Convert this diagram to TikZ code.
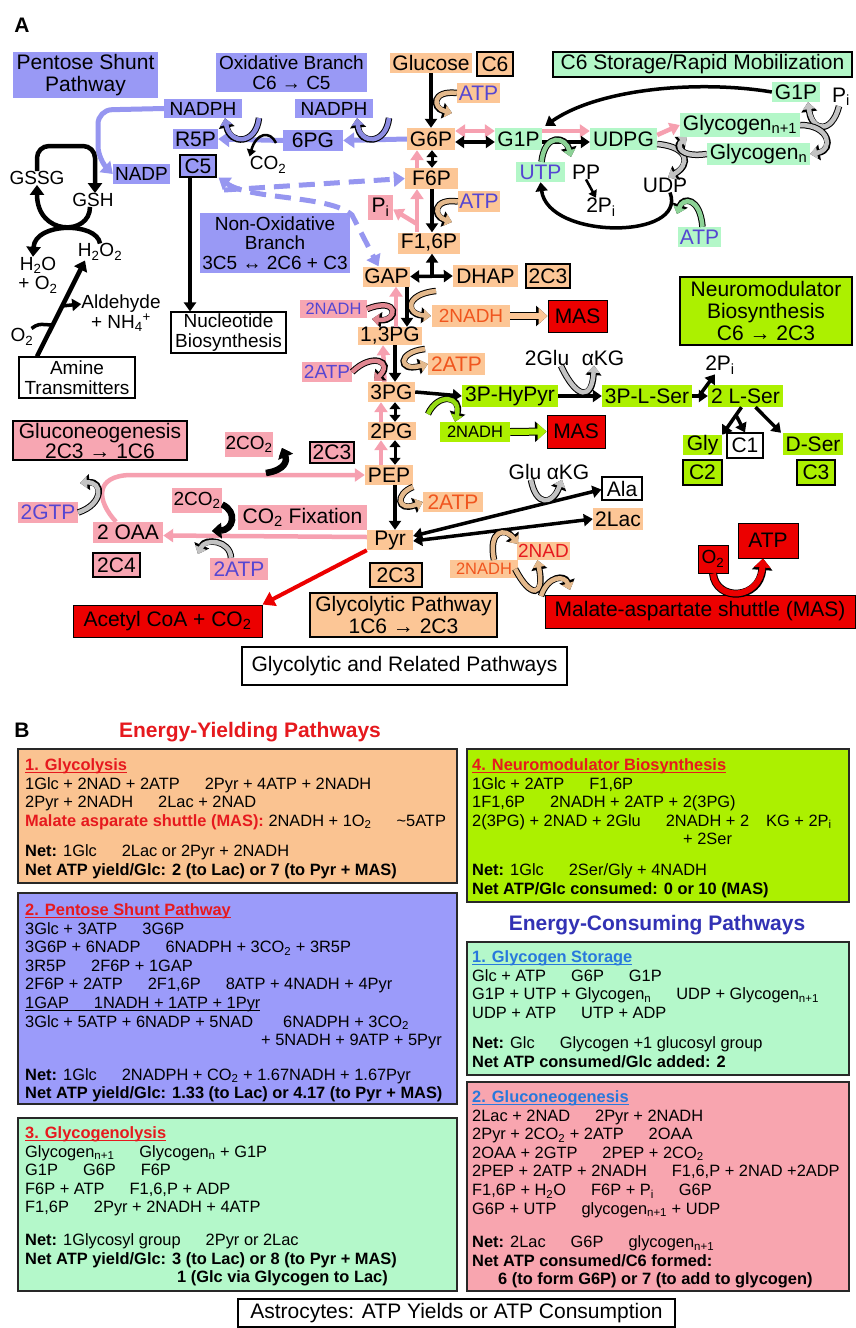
\documentclass[tikz,border=0pt]{standalone}
\usepackage{fontspec}
\setmainfont{Liberation Sans}
\usetikzlibrary{arrows.meta}
\definecolor{cOr}{RGB}{252,198,150}
\definecolor{cLav}{RGB}{153,153,245}
\definecolor{cGrn}{RGB}{179,247,200}
\definecolor{cYG}{RGB}{172,240,0}
\definecolor{cPnk}{RGB}{247,166,178}
\definecolor{cRed}{RGB}{236,0,0}
\definecolor{tBlu}{RGB}{85,70,210}
\definecolor{tOr}{RGB}{240,85,30}
\definecolor{tRed}{RGB}{230,25,30}
\definecolor{aPnk}{RGB}{246,160,176}
\definecolor{aLav}{RGB}{150,150,240}
\definecolor{hTan}{RGB}{228,185,140}
\definecolor{hGry}{RGB}{195,195,195}
\definecolor{hGrn}{RGB}{140,210,150}
\definecolor{hPnk}{RGB}{225,135,145}
\definecolor{hLav}{RGB}{140,140,225}
\definecolor{hYG}{RGB}{150,220,20}
\definecolor{ttlBlu}{RGB}{40,120,220}
\definecolor{hdrBlu}{RGB}{50,50,180}
\definecolor{bxBrd}{RGB}{40,40,40}
\definecolor{bOr}{RGB}{250,195,145}
\definecolor{bLav}{RGB}{155,155,250}
\definecolor{bGrn}{RGB}{180,248,202}
\definecolor{bYG}{RGB}{172,240,0}
\definecolor{bPnk}{RGB}{248,165,175}
\newcommand\fA{\fontsize{21}{22}\selectfont}
\newcommand\fAs{\fontsize{19}{19.5}\selectfont}
\newcommand\fAt{\fontsize{16.5}{18}\selectfont}
\newcommand\fB{\fontsize{16.4}{18.6}\selectfont}
\newcommand\fH{\fontsize{21}{22}\selectfont\bfseries}
\newcommand\sbs[1]{\textsubscript{#1}}
\newcommand\sps[1]{\textsuperscript{#1}}
\newcommand\gp{\hspace{25pt}}
\newsavebox\ulbx
\newcommand\ulin[1]{\sbox\ulbx{#1}\rlap{\rule[-2.6pt]{\wd\ulbx}{0.9pt}}\usebox\ulbx}
\begin{document}
\begin{tikzpicture}[x=1pt,y=-1pt,
  lb/.style={inner sep=0pt, font=\fA, align=center},
  sz/.style 2 args={minimum width=#1, minimum height=#2},
  orb/.style={lb, fill=cOr},
  lvb/.style={lb, fill=cLav},
  gnb/.style={lb, fill=cGrn},
  ygb/.style={lb, fill=cYG},
  pkb/.style={lb, fill=cPnk},
  rdb/.style={lb, fill=cRed, draw=black, line width=1pt},
  brd/.style={draw=black, line width=1.1pt},
  bare/.style={lb},
  blk/.style={draw=black, line width=3.5pt, -{Triangle[length=9pt,width=12pt]}},
  blkt/.style={draw=black, line width=4.5pt, -{Triangle[length=10pt,width=14pt]}},
  blk2/.style={draw=black, line width=3.5pt, {Triangle[length=9pt,width=12pt]}-{Triangle[length=9pt,width=12pt]}},
  blk2s/.style={draw=black, line width=3pt, {Triangle[length=7pt,width=11pt]}-{Triangle[length=7pt,width=11pt]}},
  pnk/.style={draw=aPnk, line width=4.5pt, -{Triangle[length=10pt,width=13pt]}},
  pnk2/.style={draw=aPnk, line width=4.5pt, {Triangle[length=10pt,width=13pt]}-{Triangle[length=10pt,width=13pt]}},
  lav/.style={draw=aLav, line width=5pt, -{Triangle[length=11pt,width=15pt]}},
  lavd/.style={lav, dash pattern=on 16pt off 9pt},
  redarr/.style={draw=cRed, line width=4pt, -{Triangle[length=12pt,width=15pt]}},
  hk/.style={draw=#1, line width=4.5pt, -{Triangle[length=7pt,width=12pt]}, preaction={draw=black, line width=6.5pt, -{Triangle[length=9.5pt,width=15.5pt]}}},
  hkb/.style={draw=#1, line width=6pt, -{Triangle[length=9pt,width=16pt]}, preaction={draw=black, line width=8pt, -{Triangle[length=11.5pt,width=20pt]}}},
  bbox/.style={draw=bxBrd, line width=1.6pt, inner sep=0pt},
  btxt/.style={anchor=base west, inner sep=0pt, font=\fB}
]
\fill[white] (0,0) rectangle (855,1328);
\path[use as bounding box] (0,0) rectangle (855,1328);

% ---------------- Part A nodes ----------------
\node[lb, font=\fA\bfseries] (lblA) at (22,25) {A};
\node[lvb, sz={145pt}{46pt}] (psp) at (85.5,75) {Pentose Shunt\\Pathway};
\node[lvb, sz={151pt}{39pt}, font=\fAs] (oxb) at (291.5,72.5) {Oxidative Branch\\C6 → C5};
\node[lvb, sz={78pt}{19pt}, font=\fAs] (nadph1) at (203,108.5) {NADPH};
\node[lvb, sz={78pt}{19pt}, font=\fAs] (nadph2) at (334,108.5) {NADPH};
\node[lvb, sz={45pt}{20pt}] (r5p) at (195.5,139) {R5P};
\node[lvb, sz={60pt}{21pt}] (pg6) at (313,140.5) {6PG};
\node[lvb, brd, sz={36pt}{22pt}] (c5) at (198,166) {C5};
\node[lvb, sz={57pt}{20pt}, font=\fAs] (nadp) at (141.5,174) {NADP};
\node[bare, font=\fAs] (gssg) at (37,178) {GSSG};
\node[bare, font=\fAs] (gsh) at (93,200) {GSH};
\node[bare, font=\fAs] (co2a) at (268,165) {CO\sbs{2}};
\node[orb, sz={82pt}{20pt}] (glc) at (431,63) {Glucose};
\node[orb, brd, sz={36pt}{24pt}] (c6) at (495,64) {C6};
\node[orb, sz={43pt}{20pt}, text=tBlu] (atp1) at (478.5,93) {ATP};
\node[orb, sz={48pt}{22pt}] (g6p) at (431,139) {G6P};
\node[gnb, sz={47pt}{22pt}] (g1p) at (518.5,139) {G1P};
\node[gnb, sz={67pt}{22pt}] (udpg) at (623.5,139) {UDPG};
\node[gnb, sz={120pt}{24pt}] (glyn1) at (740,125) {Glycogen\sbs{n+1}};
\node[gnb, sz={103pt}{22pt}] (glyn) at (758.5,154) {Glycogen\sbs{n}};
\node[gnb, sz={48pt}{20pt}] (g1pr) at (796,92) {G1P};
\node[bare] (pi1) at (841,97) {P\sbs{i}};
\node[gnb, brd, sz={299pt}{25pt}] (c6s) at (702.5,64.5) {C6 Storage/Rapid Mobilization};
\node[orb, sz={53pt}{21pt}] (f6p) at (431.5,178.5) {F6P};
\node[orb, sz={42pt}{21pt}, text=tBlu] (atp2) at (479,201.5) {ATP};
\node[gnb, sz={49pt}{20pt}, text=tBlu] (utp) at (540.5,172) {UTP};
\node[bare] (pp) at (586,172) {PP};
\node[bare] (pi2) at (601,207) {2P\sbs{i}};
\node[bare] (udp) at (665,185) {UDP};
\node[gnb, sz={43pt}{20pt}, text=tBlu] (atp3) at (699.5,237) {ATP};
\node[pkb, sz={25pt}{25pt}] (pip) at (380.5,207.5) {P\sbs{i}};
\node[orb, sz={62pt}{21pt}] (f16p) at (429,243) {F1,6P};
\node[orb, sz={47pt}{20pt}] (gap) at (386.5,276.5) {GAP};
\node[orb, sz={65pt}{22pt}] (dhap) at (485.5,276) {DHAP};
\node[orb, brd, sz={44pt}{24pt}] (c3a) at (548,276) {2C3};
\node[pkb, sz={67pt}{18pt}, font=\fAt, text=tBlu] (nadhp1) at (333.5,309) {2NADH};
\node[orb, sz={78pt}{22pt}, font=\fAs, text=tOr] (nadho1) at (471,316) {2NADH};
\node[rdb, sz={59pt}{32pt}] (mas1) at (577.5,316) {MAS};
\node[ygb, brd, sz={172pt}{68pt}] (neuro) at (766,311) {Neuromodulator\\Biosynthesis\\C6 → 2C3};
\node[orb, sz={64pt}{18pt}] (pg13) at (390,336) {1,3PG};
\node[pkb, sz={50pt}{20pt}, font=\fAs, text=tBlu] (atpp1) at (327,372) {2ATP};
\node[orb, sz={57pt}{22pt}, text=tOr] (atpo1) at (456.5,364) {2ATP};
\node[orb, sz={47pt}{20pt}] (pg3) at (391.5,392) {3PG};
\node[bare] (glu2) at (547,358) {2Glu};
\node[bare] (akg1) at (603,358) {αKG};
\node[ygb, sz={96pt}{22pt}] (hypyr) at (510,396) {3P-HyPyr};
\node[ygb, sz={90pt}{22pt}] (lser3p) at (647,396) {3P-L-Ser};
\node[ygb, sz={75pt}{22pt}] (lser) at (745.5,396) {2 L-Ser};
\node[bare] (pi3) at (720,365) {2P\sbs{i}};
\node[ygb, sz={70pt}{20pt}, font=\fAt] (nadhg) at (475,432) {2NADH};
\node[rdb, sz={58pt}{33pt}] (mas2) at (576,431.5) {MAS};
\node[ygb, sz={39pt}{20pt}] (gly) at (702.5,445) {Gly};
\node[lb, fill=white, brd, sz={36pt}{25pt}] (c1) at (745,445.5) {C1};
\node[ygb, sz={60pt}{22pt}] (dser) at (813,444) {D-Ser};
\node[ygb, brd, sz={39pt}{25pt}] (c2) at (702.5,472.5) {C2};
\node[ygb, brd, sz={38pt}{25pt}] (c3y) at (816,472.5) {C3};
\node[orb, sz={48pt}{18pt}] (pg2) at (391.5,431) {2PG};
\node[lvb, sz={150pt}{60pt}, font=\fAs] (nonox) at (275,243) {Non-Oxidative\\Branch\\3C5 ↔ 2C6 + C3};
\node[bare, font=\fAs] (h2o2) at (100,252) {H\sbs{2}O\sbs{2}};
\node[bare, font=\fAs] (h2o) at (38,275) {H\sbs{2}O\\+ O\sbs{2}};
\node[bare, font=\fAs] (ald) at (121,313) {Aldehyde\\+ NH\sbs{4}\sps{+}};
\node[bare, font=\fAs] (o2a) at (22,337) {O\sbs{2}};
\node[lb, fill=white, brd, sz={116pt}{41pt}, font=\fAs] (amine) at (77,377.5) {Amine\\Transmitters};
\node[lb, fill=white, brd, sz={115pt}{41pt}, font=\fAs] (nucl) at (228.5,332.5) {Nucleotide\\Biosynthesis};
\node[pkb, brd, sz={174pt}{39pt}, font=\fontsize{21}{20}\selectfont] (gng) at (100,440.5) {Gluconeogenesis\\2C3 → 1C6};
\node[pkb, sz={48pt}{25pt}, font=\fAs] (co2p1) at (249,444.5) {2CO\sbs{2}};
\node[pkb, brd, sz={44pt}{21pt}] (c3p) at (332,452.5) {2C3};
\node[orb, sz={48pt}{20pt}] (pep) at (389,475) {PEP};
\node[pkb, sz={60pt}{21pt}, text=tBlu] (gtp) at (48,512.5) {2GTP};
\node[pkb, sz={70pt}{21pt}] (oaa) at (128,532.5) {2 OAA};
\node[pkb, brd, sz={47pt}{24pt}] (c4) at (116.5,565) {2C4};
\node[pkb, sz={50pt}{25pt}, font=\fAs] (co2p2) at (197,500.5) {2CO\sbs{2}};
\node[pkb, sz={129pt}{25pt}] (fix) at (302.5,517.5) {CO\sbs{2} Fixation};
\node[pkb, sz={58pt}{22pt}, text=tBlu] (atpp2) at (239,569) {2ATP};
\node[orb, sz={46pt}{20pt}] (pyr) at (390,540) {Pyr};
\node[orb, brd, sz={52pt}{24pt}] (c3b) at (396,575) {2C3};
\node[orb, brd, sz={187pt}{44pt}] (glyp) at (403.5,615) {Glycolytic Pathway\\1C6 → 2C3};
\node[rdb, sz={189pt}{32pt}] (acoa) at (167.5,621) {Acetyl CoA + CO\sbs{2}};
\node[lb, fill=white, brd, sz={325pt}{38pt}] (grp) at (404.5,666) {Glycolytic and Related Pathways};
\node[bare] (glu1) at (525,472) {Glu};
\node[bare] (akg2) at (568,472) {αKG};
\node[lb, fill=white, brd, sz={40pt}{23pt}] (ala) at (622,488.5) {Ala};
\node[orb, sz={50pt}{22pt}] (lac) at (618,519) {2Lac};
\node[orb, sz={60pt}{20pt}, text=tOr] (atpo2) at (453,502) {2ATP};
\node[orb, sz={53pt}{18pt}, font=\fAs, text=tRed] (nad2) at (543.5,551) {2NAD};
\node[orb, sz={68pt}{18pt}, font=\fAt, text=tOr] (nadho2) at (484,569) {2NADH};
\node[rdb, sz={30pt}{28pt}, font=\fAs] (o2r) at (713,559) {O\sbs{2}};
\node[rdb, sz={60pt}{35pt}] (atpr) at (768,540.5) {ATP};
\node[rdb, sz={310pt}{33pt}] (masl) at (700,611.5) {Malate-aspartate shuttle (MAS)};

% ---------------- Part A connectors ----------------
% glycolysis (black)
\draw[blk] (glc.south) -- (g6p.north);
\draw[blk2s] ([xshift=1pt]g6p.south) -- ([xshift=0.5pt]f6p.north);
\draw[blk] ([xshift=0.5pt]f6p.south) -- ([xshift=3pt]f16p.north);
\coordinate (jn1) at (432,276.5);
\draw[blk2] (gap.east) -- (dhap.west);
\draw[blk] (jn1) -- ([xshift=3pt]f16p.south);
\draw[blk] ([xshift=20.5pt]gap.south) -- ([xshift=17pt]pg13.north);
\draw[blk] ([xshift=5pt]pg13.south) -- ([xshift=3.5pt]pg3.north);
\draw[blk2s] ([xshift=3.5pt]pg3.south) -- ([xshift=3.5pt]pg2.north);
\draw[blk2s] ([xshift=3.5pt]pg2.south) -- ([xshift=6pt]pep.north);
\draw[blk] ([xshift=6pt]pep.south) -- ([xshift=5pt]pyr.north);
\draw[blk2] ([yshift=4pt]pyr.east) -- ([yshift=-1pt]ala.west);
\draw[blk2] ([yshift=-1pt]pyr.east) -- (lac.west);
% gluconeogenesis (pink)
\draw[pnk] ([xshift=-14.5pt]f6p.north) -- ([xshift=-14pt]g6p.south);
\coordinate (br1) at (417,224);
\draw[pnk] ([xshift=-12pt]f16p.north) -- ([xshift=-14.5pt]f6p.south);
\draw[pnk] (br1) -- ([yshift=-2pt]pip.east);
\draw[pnk] ([xshift=6pt]pg13.north) -- ([xshift=9.5pt]gap.south);
\draw[pnk] ([xshift=-7pt]pg3.north) -- ([xshift=-7pt]pg13.south);
\draw[pnk] ([xshift=-10.5pt]pg2.north) -- ([xshift=-10.5pt]pg3.south);
\draw[pnk] ([xshift=-8pt]pep.north) -- ([xshift=-10.5pt]pg2.south);
\draw[pnk] ([yshift=3pt]pyr.west) -- ([yshift=-3pt]oaa.east);
\draw[pnk] ([xshift=-12pt]oaa.north) .. controls (96,500) and (95,476) .. (130,475) -- (pep.west);
% glycogen
\draw[pnk2] ([yshift=8pt]g6p.east) -- ([yshift=8pt]g1p.west);
\draw[blk2] ([yshift=-3pt]g6p.east) -- ([yshift=-3pt]g1p.west);
\draw[pnk] ([yshift=8pt]g1p.east) -- ([yshift=8pt]udpg.west);
\draw[blk] ([yshift=-3pt]g1p.east) -- ([yshift=-3pt]udpg.west);
\draw[pnk] ([yshift=4pt]udpg.east) -- (glyn1.west);
\draw[blk] (g1pr.west) .. controls (700,80) and (600,88) .. ([xshift=3pt,yshift=2pt]g1p.north east);
\draw[black, line width=2.5pt, -{Triangle[length=7pt,width=9pt]}] (pp.south) -- ([xshift=-5pt]pi2.north);
\draw[blk] ([xshift=5pt]udp.south) .. controls (688,240) and (548,240) .. (utp.south);
% serine branch
\draw[blk] (pg3.east) -- (hypyr.west);
\draw[blk] (hypyr.east) -- (lser3p.west);
\draw[blk] (lser3p.east) -- (lser.west);
\coordinate (jn2) at (699,396);
\draw[blk] (jn2) -- ([xshift=-5pt]pi3.south);
\coordinate (jn3) at (736,415);
\draw[blk] ([xshift=-4pt]lser.south) -- (gly.north east);
\draw[blk] (jn3) -- (c1.north);
\draw[blk] ([xshift=10pt]lser.south) -- ([xshift=-32pt]dser.north);
% pentose shunt
\draw[lav] (g6p.west) -- (pg6.east);
\draw[lav] (pg6.west) -- (r5p.east);
\draw[lav, rounded corners=14pt] (nadph1.west) -- (98,110) -- (98,160) -- (nadp.west);
\coordinate (d1) at (224,190);
\draw[lavd] (d1) -- (f6p.west);
\draw[lavd, {Triangle[length=11pt,width=15pt]}-{Triangle[length=11pt,width=15pt]}] ([xshift=2pt]c5.south east) .. controls (250,200) and (330,195) .. (352,215) -- ([xshift=-8pt]gap.north);
\draw[blk] ([xshift=-8pt]c5.south) -- ([xshift=-38.5pt]nucl.north);
% glutathione / amines
\draw[blkt, rounded corners=12pt] (gssg.north) -- (37,146) -- (95,146) -- ([xshift=2pt]gsh.north);
\draw[blkt] ([xshift=-3pt]gsh.south) .. controls (90,236) and (37,236) .. (gssg.south);
\draw[blkt] (h2o2.north) .. controls (97,222) and (35,222) .. ([xshift=-5pt]h2o.north);
\draw[blkt] ([xshift=-40pt]amine.north) -- ([xshift=-15pt]h2o2.south);
\draw[black, line width=3.5pt] ([xshift=-2pt]o2a.north east) .. controls (38,324) .. (51,325);
\coordinate (jn4) at (62,306);
\draw[blk] (jn4) -- ([yshift=9pt]ald.west);
% red
\draw[redarr] (pyr.south west) -- (acoa.north east);
% hooks
\draw[hk=hTan] (atp1.west) .. controls (432,90) and (432,108) .. (452,113);
\draw[hk=hTan] (atp2.west) .. controls (433,198) and (433,216) .. (452,222);
\draw[hk=hTan] (436,291) .. controls (405,294) and (405,314) .. ([xshift=-1pt]nadho1.west);
\draw[hk=hPnk] (nadhp1.east) .. controls (400,296) and (398,322) .. (372,319);
\draw[hk=hPnk] (atpp1.east) .. controls (372,352) and (394,362) .. (374,381);
\draw[hk=hTan] (425,349) .. controls (397,352) and (398,372) .. (atpo1.west);
\draw[hk=hTan] (413,487) .. controls (395,494) and (397,512) .. (atpo2.west);
\draw[hk=hYG] (428,414) .. controls (438,392) and (462,396) .. ([xshift=-20pt]nadhg.north);
\draw[hk=hGry] ([xshift=14pt]glu2.south) .. controls (577,400) and (592,400) .. ([xshift=-9pt]akg1.south);
\draw[hk=hGry] ([xshift=6pt]glu1.south) .. controls (536,506) and (552,506) .. ([xshift=-6pt]akg2.south);
\draw[hk=hTan] ([xshift=10pt]nadho2.north) .. controls (488,530) and (505,527) .. (518,544);
\draw[hk=hTan] ([xshift=-3pt]nadho2.east) .. controls (530,598) and (545,598) .. ([xshift=-6pt]nad2.south);
\draw[hk=hTan] (541,596) .. controls (548,575) and (565,575) .. (570,590);
\draw[hk=black] ([yshift=-4pt]co2p2.east) .. controls (238,512) and (233,530) .. (212,531);
\draw[hk=hGry] ([xshift=-8pt]atpp2.north) .. controls (230,540) and (205,538) .. (198,554);
\draw[hk=hGry] (gtp.east) .. controls (104,504) and (103,481) .. (80,483);
\draw[hk=black] (266,473) .. controls (286,470) and (287,460) .. (282,448);
\draw[hk=hLav] (389,118) .. controls (386,145) and (360,145) .. ([xshift=23pt]nadph2.south);
\draw[hk=hLav] (259,118) .. controls (256,145) and (230,145) .. ([xshift=22pt]nadph1.south);
\draw[black, line width=2.5pt, -{Triangle[length=7pt,width=9pt]}] (276,143) .. controls (270,130) and (256,133) .. (co2a.north west);
\draw[hk=hGrn] ([xshift=1pt]utp.north) .. controls (545,132) and (566,137) .. (571,157);
\draw[hk=hGry] ([yshift=-5pt]udpg.east) .. controls (690,147) and (690,165) .. ([xshift=3pt]udp.north);
\draw[hk=hGry] (glyn.west) .. controls (680,158) and (676,146) .. ([xshift=-53pt]glyn1.south);
\draw[hk=hGry] ([xshift=-2pt]pi1.south) .. controls (832,134) and (812,132) .. ([xshift=12pt]g1pr.south);
\draw[hk=hGry] (glyn1.east) .. controls (830,125) and (834,150) .. (glyn.east);
\draw[hk=hGrn] ([xshift=3pt]atp3.north) .. controls (700,197) and (683,197) .. (677,214);
\draw[hkb=cRed] (o2r.south) .. controls (716,602) and (760,600) .. ([xshift=-5pt]atpr.south);
\draw[hkb=cOr] (nadho1.east) -- (mas1.west);
\draw[hkb=cYG] (nadhg.east) -- (mas2.west);

% ---------------- Part B ----------------
\node[lb, font=\fA\bfseries] (lblB) at (22,730) {B};
\node[font=\fH, text=tRed] (hdr1) at (250,732) {Energy-Yielding Pathways};
\node[font=\fH, text=hdrBlu] (hdr2) at (657,925) {Energy-Consuming Pathways};

\node[bbox, fill=bOr, sz={439pt}{134pt}] (b1) at (237.5,816) {};
\node[bbox, fill=bLav, sz={439pt}{211pt}] (b2) at (237.5,998.5) {};
\node[bbox, fill=bGrn, sz={439pt}{173pt}] (b3) at (237.5,1204.5) {};
\node[bbox, fill=bYG, sz={382pt}{153pt}] (b4) at (658,825.5) {};
\node[bbox, fill=bGrn, sz={382pt}{133pt}] (b5) at (658,1008.5) {};
\node[bbox, fill=bPnk, sz={382pt}{209pt}] (b6) at (658,1186.5) {};

\node[btxt] (t1) at (25,770.5) {\begin{tabular}[t]{@{}l@{}}
{\color{tRed}\bfseries\ulin{1. Glycolysis}}\\
1Glc + 2NAD + 2ATP\gp 2Pyr + 4ATP + 2NADH\\
2Pyr + 2NADH\gp 2Lac + 2NAD\\
{\color{tRed}\bfseries Malate asparate shuttle (MAS):} 2NADH + 1O\sbs{2}\gp \textasciitilde5ATP\\[12pt]
\textbf{Net:} 1Glc\gp 2Lac or 2Pyr + 2NADH\\
\textbf{Net ATP yield/Glc: 2 (to Lac) or 7 (to Pyr + MAS)}
\end{tabular}};

\node[btxt] (t2) at (25,915.5) {\begin{tabular}[t]{@{}l@{}}
{\color{tRed}\bfseries\ulin{2. Pentose Shunt Pathway}}\\
3Glc + 3ATP\gp 3G6P\\
3G6P + 6NADP\gp 6NADPH + 3CO\sbs{2} + 3R5P\\
3R5P\gp 2F6P + 1GAP\\
2F6P + 2ATP\gp 2F1,6P\gp 8ATP + 4NADH + 4Pyr\\
\ulin{1GAP\gp 1NADH + 1ATP + 1Pyr}\\
3Glc + 5ATP + 6NADP + 5NAD\hspace{30pt}6NADPH + 3CO\sbs{2}\\
\hspace*{236pt}+ 5NADH + 9ATP + 5Pyr\\[16pt]
\textbf{Net:} 1Glc\gp 2NADPH + CO\sbs{2} + 1.67NADH + 1.67Pyr\\
\textbf{Net ATP yield/Glc: 1.33 (to Lac) or 4.17 (to Pyr + MAS)}
\end{tabular}};

\node[btxt] (t3) at (25,1138.5) {\begin{tabular}[t]{@{}l@{}}
{\color{tRed}\bfseries\ulin{3. Glycogenolysis}}\\
Glycogen\sbs{n+1}\gp Glycogen\sbs{n} + G1P\\
G1P\gp G6P\gp F6P\\
F6P + ATP\gp F1,6,P + ADP\\
F1,6P\gp 2Pyr + 2NADH + 4ATP\\[14pt]
\textbf{Net:} 1Glycosyl group\gp 2Pyr or 2Lac\\
\textbf{Net ATP yield/Glc: 3 (to Lac) or 8 (to Pyr + MAS)}\\
\hspace*{152pt}\textbf{1 (Glc via Glycogen to Lac)}
\end{tabular}};

\node[btxt] (t4) at (472,770.5) {\begin{tabular}[t]{@{}l@{}}
{\color{tRed}\bfseries\ulin{4. Neuromodulator Biosynthesis}}\\
1Glc + 2ATP\gp F1,6P\\
1F1,6P\gp 2NADH + 2ATP + 2(3PG)\\
2(3PG) + 2NAD + 2Glu\gp 2NADH + 2\hspace{17pt}KG + 2P\sbs{i}\\
\hspace*{211pt}+ 2Ser\\[12pt]
\textbf{Net:} 1Glc\gp 2Ser/Gly + 4NADH\\
\textbf{Net ATP/Glc consumed: 0 or 10 (MAS)}
\end{tabular}};

\node[btxt] (t5) at (472,962.5) {\begin{tabular}[t]{@{}l@{}}
{\color{ttlBlu}\bfseries\ulin{1. Glycogen Storage}}\\
Glc + ATP\gp G6P\gp G1P\\
G1P + UTP + Glycogen\sbs{n}\gp UDP + Glycogen\sbs{n+1}\\
UDP + ATP\gp UTP + ADP\\[11.6pt]
\textbf{Net:} Glc\gp Glycogen +1 glucosyl group\\
\textbf{Net ATP consumed/Glc added: 2}
\end{tabular}};

\node[btxt] (t6) at (472,1102.5) {\begin{tabular}[t]{@{}l@{}}
{\color{ttlBlu}\bfseries\ulin{2. Gluconeogenesis}}\\
2Lac + 2NAD\gp 2Pyr + 2NADH\\
2Pyr + 2CO\sbs{2} + 2ATP\gp 2OAA\\
2OAA + 2GTP\gp 2PEP + 2CO\sbs{2}\\
2PEP + 2ATP + 2NADH\gp F1,6,P + 2NAD +2ADP\\
F1,6P + H\sbs{2}O\gp F6P + P\sbs{i}\gp G6P\\
G6P + UTP\gp glycogen\sbs{n+1} + UDP\\[14.8pt]
\textbf{Net:} 2Lac\gp G6P\gp glycogen\sbs{n+1}\\
\textbf{Net ATP consumed/C6 formed:}\\
\hspace*{26pt}\textbf{6 (to form G6P) or 7 (to add to glycogen)}
\end{tabular}};

\node[lb, brd, fill=white, sz={437pt}{28pt}] (astro) at (456.5,1313) {Astrocytes: ATP Yields or ATP Consumption};
\end{tikzpicture}
\end{document}
